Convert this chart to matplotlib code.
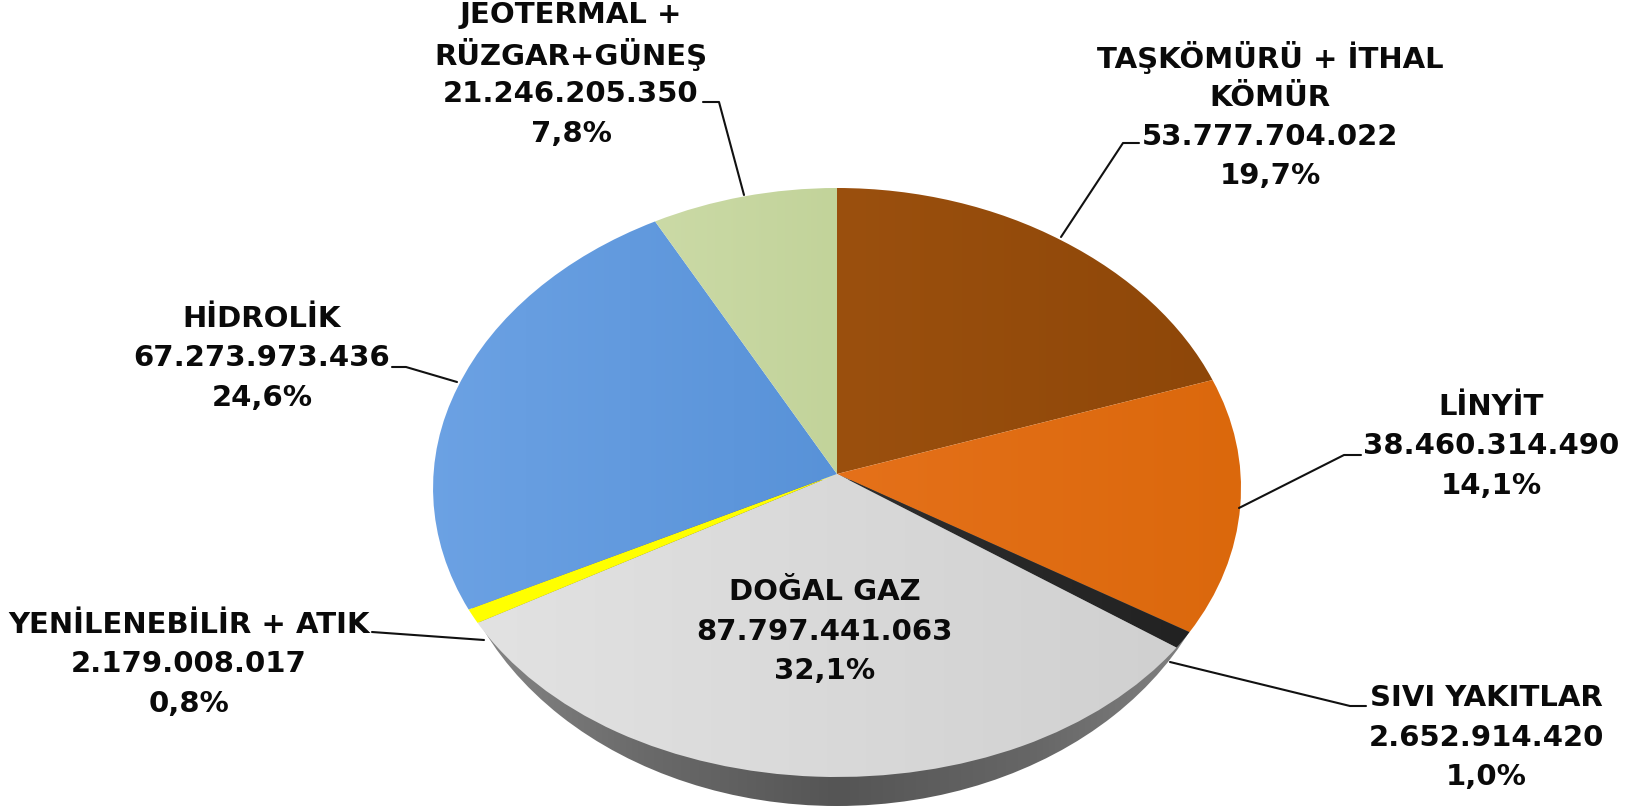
import numpy as np
import matplotlib
matplotlib.use("Agg")
import matplotlib.pyplot as plt
from matplotlib.path import Path
from matplotlib.patches import PathPatch, Ellipse
from matplotlib.colors import LinearSegmentedColormap

names = ["TAŞKÖMÜRÜ + İTHAL\nKÖMÜR", "LİNYİT", "SIVI YAKITLAR", "DOĞAL GAZ",
         "YENİLENEBİLİR + ATIK", "HİDROLİK", "JEOTERMAL +\nRÜZGAR+GÜNEŞ"]
values = [53777704022, 38460314490, 2652914420, 87797441063,
          2179008017, 67273973436, 21246205350]
value_labels = ["53.777.704.022", "38.460.314.490", "2.652.914.420", "87.797.441.063",
                "2.179.008.017", "67.273.973.436", "21.246.205.350"]
pct_labels = ["19,7%", "14,1%", "1,0%", "32,1%", "0,8%", "24,6%", "7,8%"]

# left / right colour of each slice
left_cols = ["#9b500e", "#e5711a", "#2e2e2e", "#e2e2e2", "#ffff00", "#6ca2e4", "#cbdaa6"]
right_cols = ["#8e4709", "#db680c", "#222222", "#d0d0d0", "#ffff00", "#5892d8", "#c2d39a"]

# label centre (x, y of the top line) and leader points, in pixels
label_xy = [(1270, 58), (1491, 407), (1486, 698), (825, 592), (189, 625), (262, 319), (571, 15)]
leaders = [[(1139, 143), (1123, 143), (1061, 237)],
           [(1361, 455), (1344, 455), (1239, 508)],
           [(1366, 706), (1350, 706), (1170, 662)],
           None,
           [(372, 632), (484, 640)],
           [(392, 367), (406, 367), (457, 382)],
           [(703, 102), (719, 102), (744, 195)]]

cx, cy = 837, 474
rx, r_up, r_down = 404, 286, 303
persp = np.radians(2.6)  # far slices look narrower than near ones
line_h = 39.5

fig = plt.figure(figsize=(16.41, 8.11), dpi=100)
ax = fig.add_axes([0, 0, 1, 1])
wedges, _ = ax.pie(values, startangle=90, counterclock=False, radius=1)
ax.set_aspect("auto")
ax.set_xlim(0, 1641)
ax.set_ylim(811, 0)
ax.axis("off")


def gradient(cols, extent, clip, z):
    cmap = LinearSegmentedColormap.from_list("g", cols)
    im = ax.imshow(np.linspace(0, 1, 256).reshape(1, -1), cmap=cmap, extent=extent,
                   aspect="auto", zorder=z, interpolation="bilinear")
    im.set_clip_path(clip)


# rim under the front of the pie
rim = Ellipse((837, 498), 782, 616, transform=ax.transData, fc="none", ec="none")
ax.add_patch(rim)
gradient(["#8a8a8a", "#6a6a6a", "#555555", "#666666", "#868686"], (450, 1225, 811, 480), rim, 1)

for i, w in enumerate(wedges):
    # the pie is seen tilted: flatten it and stretch the front half a little
    p = w.get_path().transformed(w.get_patch_transform())
    v = p.vertices.copy()
    r = np.hypot(v[:, 0], v[:, 1])
    th = np.arctan2(v[:, 0], v[:, 1])
    px = cx + rx * r * np.sin(th - persp * np.sin(th))
    py = cy - np.where(v[:, 1] > 0, r_up, r_down) * v[:, 1]
    w.set_visible(False)
    face = PathPatch(Path(np.column_stack([px, py]), p.codes), fc="none", ec="none",
                     transform=ax.transData)
    ax.add_patch(face)
    gradient([left_cols[i], right_cols[i]],
             (px.min() - 1, px.max() + 1, py.max() + 1, py.min() - 1), face, 2 + i * 0.01)

for i in range(len(names)):
    x, y = label_xy[i]
    lines = names[i].split("\n") + [value_labels[i], pct_labels[i]]
    for k, s in enumerate(lines):
        ax.text(x, y + k * line_h, s, ha="center", va="center", fontsize=21,
                fontweight="bold", family="DejaVu Sans", color="#0a0a0a", zorder=5)
    if leaders[i] is not None:
        ax.plot([p[0] for p in leaders[i]], [p[1] for p in leaders[i]],
                color="#111111", lw=1.5, zorder=4, solid_capstyle="round")

ax.set_xlim(0, 1641)
ax.set_ylim(811, 0)
fig.savefig("out.png", dpi=100, facecolor="white")
